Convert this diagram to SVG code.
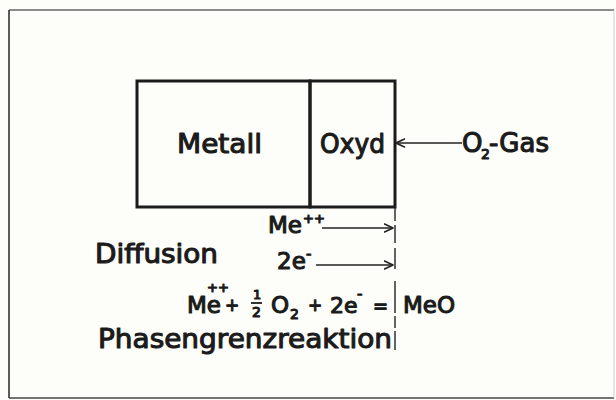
<svg xmlns="http://www.w3.org/2000/svg" width="616" height="400" viewBox="0 0 616 400">
<defs>
<marker id="chev" viewBox="0 0 10 10" refX="9.5" refY="5" markerWidth="10" markerHeight="10" markerUnits="userSpaceOnUse" orient="auto">
<path d="M1,1 L9.5,5 L1,9" fill="none" stroke="#222" stroke-width="1.6" stroke-linecap="round" stroke-linejoin="round"/>
</marker>
<style>
.t{font-family:"DejaVu Sans","Liberation Sans",sans-serif;fill:#1b1b1b;stroke:#1b1b1b;stroke-width:1.1;stroke-linejoin:round}
.conn{stroke:#222;stroke-width:1.4;fill:none}
</style>
</defs>
<rect x="0" y="0" width="616" height="400" fill="#fdfdfa"/>
<g id="frame" fill="none">
<line x1="9" y1="10" x2="614" y2="10" stroke="#666" stroke-width="1.3"/>
<line x1="9" y1="10" x2="9" y2="398" stroke="#333" stroke-width="1.6"/>
<line x1="9" y1="398" x2="614" y2="398" stroke="#444" stroke-width="1.4"/>
<line x1="614" y1="10" x2="614" y2="398" stroke="#ccc" stroke-width="1"/>
</g>
<g id="metall">
<rect x="137" y="81" width="173" height="126" fill="none" stroke="#1b1b1b" stroke-width="3"/>
<text class="t" x="177" y="153" font-size="27" textLength="85" lengthAdjust="spacingAndGlyphs">Metall</text>
</g>
<g id="oxyd">
<rect x="310" y="81" width="85" height="126" fill="none" stroke="#1b1b1b" stroke-width="3"/>
<text class="t" x="320" y="153" font-size="26" textLength="65" lengthAdjust="spacingAndGlyphs">Oxyd</text>
</g>
<g id="gas">
<text class="t" font-size="26"><tspan x="462" y="152">O</tspan><tspan x="481" y="159" font-size="14">2</tspan><tspan x="489" y="152">-Gas</tspan></text>
</g>
<g id="diffusion">
<text class="t" x="95" y="263" font-size="26" textLength="123" lengthAdjust="spacingAndGlyphs">Diffusion</text>
<text class="t" font-size="23"><tspan x="268" y="233">Me</tspan><tspan x="303" y="223" font-size="13">++</tspan></text>
<text class="t" font-size="23"><tspan x="277" y="269">2e</tspan><tspan x="306" y="259" font-size="15">-</tspan></text>
</g>
<g id="reaction">
<text class="t" font-size="23"><tspan x="187" y="313">Me</tspan><tspan x="207" y="292" font-size="13">++</tspan><tspan x="225" y="311" font-size="17">+</tspan><tspan x="253" y="299" font-size="13">1</tspan><tspan x="252" y="317" font-size="14">2</tspan><tspan x="271" y="313">O</tspan><tspan x="290" y="319" font-size="14">2</tspan><tspan x="308" y="311" font-size="17">+</tspan><tspan x="330" y="313" font-size="22">2e</tspan><tspan x="357" y="299" font-size="15">-</tspan><tspan x="373" y="312" font-size="18">=</tspan></text>
<line x1="251" y1="303" x2="262" y2="303" stroke="#1b1b1b" stroke-width="1.8"/>
<text class="t" x="403" y="313" font-size="23">MeO</text>
<text class="t" x="98" y="348" font-size="27" textLength="294" lengthAdjust="spacingAndGlyphs">Phasengrenzreaktion</text>
</g>
<g id="connectors">
<line class="conn" x1="462" y1="143" x2="396" y2="143" marker-end="url(#chev)"/>
<line class="conn" x1="322" y1="228" x2="393" y2="228" marker-end="url(#chev)"/>
<line class="conn" x1="316" y1="265" x2="393" y2="265" marker-end="url(#chev)"/>
<path class="conn" d="M395,207 V221 M395,225 V243 M395,248 V269 M395,281 V313 M395,316 V328 M395,331 V350" stroke-width="1.2"/>
</g>
</svg>
